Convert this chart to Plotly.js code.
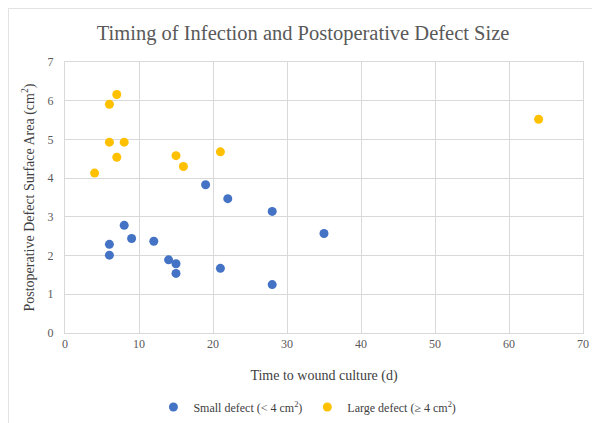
<!DOCTYPE html>
<html>
<head>
<meta charset="utf-8">
<script src="https://cdn.plot.ly/plotly-3.0.1.min.js"></script>
<style>
html,body{margin:0;padding:0;background:#fff;}
#chart{position:absolute;left:0;top:0;width:592px;height:423px;}
#frame{position:absolute;left:8px;top:8px;width:620px;height:480px;border:1px solid #e3e3e3;pointer-events:none;}
</style>
</head>
<body>
<div id="chart"></div>
<div id="frame"></div>
<script>
const smallDays = [19, 22, 28, 35, 8, 9, 6, 6, 12, 14, 15, 15, 21, 28];
const smallArea = [3.83, 3.47, 3.14, 2.57, 2.78, 2.44, 2.29, 2.01, 2.37, 1.89, 1.79, 1.54, 1.67, 1.25];
const largeDays = [4, 6, 7, 6, 8, 7, 15, 16, 21, 64];
const largeArea = [4.13, 5.91, 6.16, 4.93, 4.93, 4.54, 4.58, 4.30, 4.68, 5.52];
const seriesNames = ['Small defect (< 4 cm<sup>2</sup>)', 'Large defect (≥ 4 cm<sup>2</sup>)'];
const xTicks = [0, 10, 20, 30, 40, 50, 60, 70];
const yTicks = [0, 1, 2, 3, 4, 5, 6, 7];

const font = 'Liberation Serif, Times New Roman, serif';
const grid = '#d9d9d9';

const traces = [
  {x: smallDays, y: smallArea, mode: 'markers', type: 'scatter', name: seriesNames[0],
   marker: {color: '#4472c4', size: 9}},
  {x: largeDays, y: largeArea, mode: 'markers', type: 'scatter', name: seriesNames[1],
   marker: {color: '#ffc000', size: 9}}
];

const layout = {
  width: 592, height: 423,
  margin: {l: 65, r: 9, t: 62, b: 90, autoexpand: false},
  paper_bgcolor: '#fff', plot_bgcolor: '#fff',
  font: {family: font, color: '#595959', size: 12},
  title: {text: 'Timing of Infection and Postoperative Defect Size',
    font: {family: font, size: 20.5, color: '#595959'},
    x: 0.512, xanchor: 'center', y: 0.922, yanchor: 'middle'},
  xaxis: {range: [0, 70], tickvals: xTicks, showgrid: true, gridcolor: grid,
    zeroline: false, showline: true, mirror: true, linecolor: grid, linewidth: 1,
    ticks: '', tickfont: {family: font, size: 12, color: '#595959'},
    title: {text: 'Time to wound culture (d)', font: {family: font, size: 14, color: '#404040'}, standoff: 19}},
  yaxis: {range: [0, 7], tickvals: yTicks, showgrid: true, gridcolor: grid,
    zeroline: false, showline: true, mirror: true, linecolor: grid, linewidth: 1,
    ticks: '', ticklabelstandoff: 8, tickfont: {family: font, size: 12, color: '#595959'},
    title: {text: 'Postoperative Defect Surface Area (cm<sup>2</sup>)', font: {family: font, size: 14, color: '#404040'}, standoff: 9}},
  showlegend: true,
  legend: {orientation: 'h', x: 0.468, xanchor: 'center', y: -0.273, yanchor: 'middle',
    font: {family: font, size: 12, color: '#404040'}, itemwidth: 30, tracegroupgap: 0}
};

Plotly.newPlot('chart', traces, layout, {displayModeBar: false, staticPlot: true});
</script>
</body>
</html>
